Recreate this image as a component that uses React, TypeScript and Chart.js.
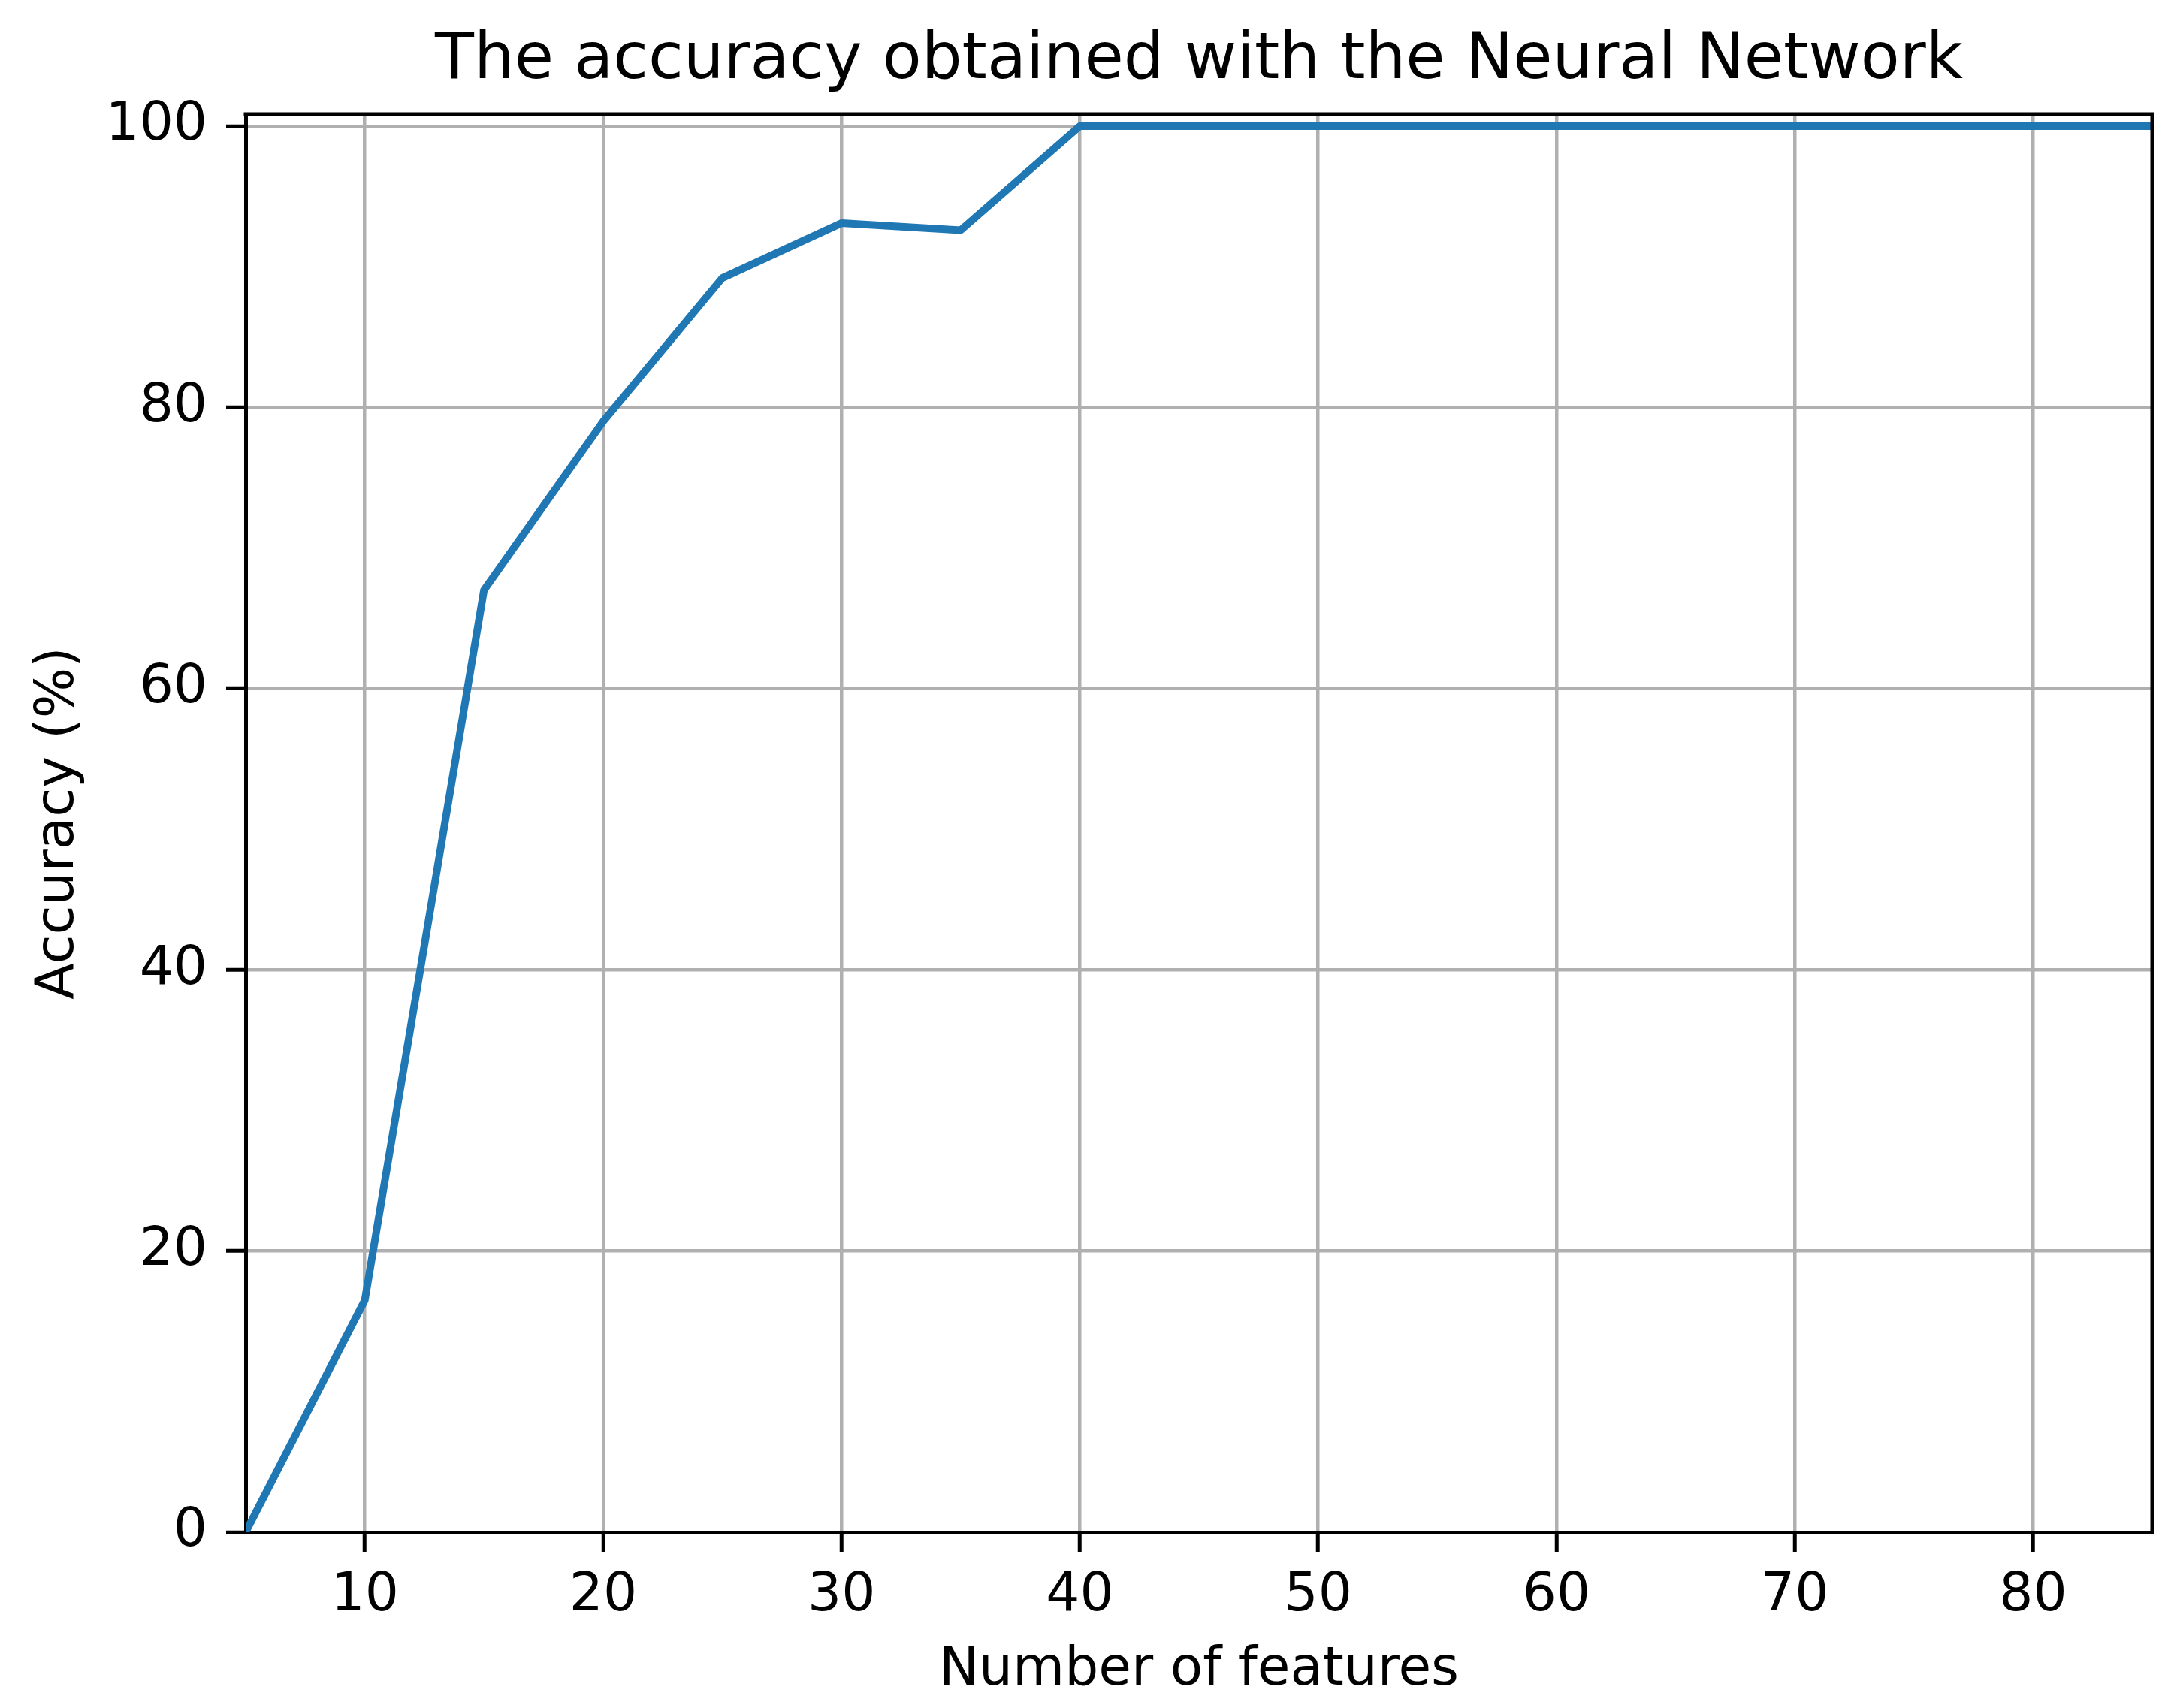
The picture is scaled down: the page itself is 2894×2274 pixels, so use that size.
import React, { useEffect, useRef } from 'react';
import { Chart, registerables } from 'chart.js';

Chart.register(...registerables);

const featureCounts = [5, 10, 15, 20, 25, 30, 35, 40, 45, 50, 55, 60, 65, 70, 75, 80, 85];
const accuracyValues = [0, 16.5, 67, 79, 89.2, 93.1, 92.6, 100, 100, 100, 100, 100, 100, 100, 100, 100, 100];
const xTickValues = [10, 20, 30, 40, 50, 60, 70, 80];
const yTickValues = [0, 20, 40, 60, 80, 100];
const xRange = [5, 85];
const yRange = [0, 100.85];
const titleText = 'The accuracy obtained with the Neural Network';
const xLabel = 'Number of features';
const yLabel = 'Accuracy (%)';

const W = 2894;
const H = 2274;
const FONT = '"DejaVu Sans", "Liberation Sans", sans-serif';

const framePlugin = {
  id: 'frameAndLabels',
  afterDraw(chart: any) {
    const { ctx, chartArea: a } = chart;
    ctx.save();
    ctx.strokeStyle = '#000';
    ctx.lineWidth = 5;
    ctx.lineCap = 'square';
    ctx.beginPath();
    ctx.moveTo(a.left, a.top);
    ctx.lineTo(a.right, a.top);
    ctx.lineTo(a.right, a.bottom);
    ctx.stroke();

    ctx.fillStyle = '#000';
    ctx.textAlign = 'center';
    ctx.textBaseline = 'alphabetic';
    ctx.font = `85px ${FONT}`;
    ctx.fillText(titleText, (a.left + a.right) / 2, 104);

    ctx.font = `71px ${FONT}`;
    ctx.fillText(xLabel, (a.left + a.right) / 2, 2243);

    ctx.translate(97, (a.top + a.bottom) / 2);
    ctx.rotate(-Math.PI / 2);
    ctx.fillText(yLabel, 0, 0);
    ctx.restore();
  },
};

export default function App() {
  const ref = useRef<HTMLCanvasElement | null>(null);

  useEffect(() => {
    if (!ref.current) return;
    const chart = new Chart(ref.current, {
      type: 'line',
      data: {
        datasets: [
          {
            data: featureCounts.map((x, i) => ({ x, y: accuracyValues[i] })),
            borderColor: '#1f77b4',
            borderWidth: 10,
            pointRadius: 0,
            tension: 0,
            borderJoinStyle: 'round',
            borderCapStyle: 'butt',
            fill: false,
            clip: 0,
          },
        ],
      },
      options: {
        responsive: false,
        maintainAspectRatio: false,
        devicePixelRatio: 1,
        animation: false,
        layout: { padding: { top: 152, left: 0, right: 29, bottom: 0 } },
        plugins: {
          legend: { display: false },
          tooltip: { enabled: false },
          title: { display: false },
        },
        scales: {
          x: {
            type: 'linear',
            min: xRange[0],
            max: xRange[1],
            afterBuildTicks: (s: any) => {
              s.ticks = xTickValues.map((v) => ({ value: v }));
            },
            afterFit: (s: any) => {
              s.height = 234;
            },
            ticks: {
              autoSkip: false,
              maxRotation: 0,
              minRotation: 0,
              padding: 17,
              color: '#000',
              font: { family: FONT, size: 71 },
              callback: (v: any) => String(v),
            },
            grid: {
              color: '#b0b0b0',
              lineWidth: 4.5,
              tickLength: 26,
              tickColor: '#000',
              tickWidth: 5,
            },
            border: { display: true, color: '#000', width: 5 },
          },
          y: {
            type: 'linear',
            min: yRange[0],
            max: yRange[1],
            afterBuildTicks: (s: any) => {
              s.ticks = yTickValues.map((v) => ({ value: v }));
            },
            afterFit: (s: any) => {
              s.width = 327;
            },
            ticks: {
              padding: 25,
              color: '#000',
              font: { family: FONT, size: 71 },
              callback: (v: any) => String(v),
            },
            grid: {
              color: '#b0b0b0',
              lineWidth: 4.5,
              tickLength: 26,
              tickColor: '#000',
              tickWidth: 5,
            },
            border: { display: true, color: '#000', width: 5 },
          },
        },
      },
      plugins: [framePlugin],
    } as any);
    return () => chart.destroy();
  }, []);

  return (
    <div style={{ position: 'absolute', left: 0, top: 0, width: W, height: H, background: '#fff' }}>
      <canvas ref={ref} width={W} height={H} style={{ width: W, height: H, display: 'block' }} />
    </div>
  );
}
